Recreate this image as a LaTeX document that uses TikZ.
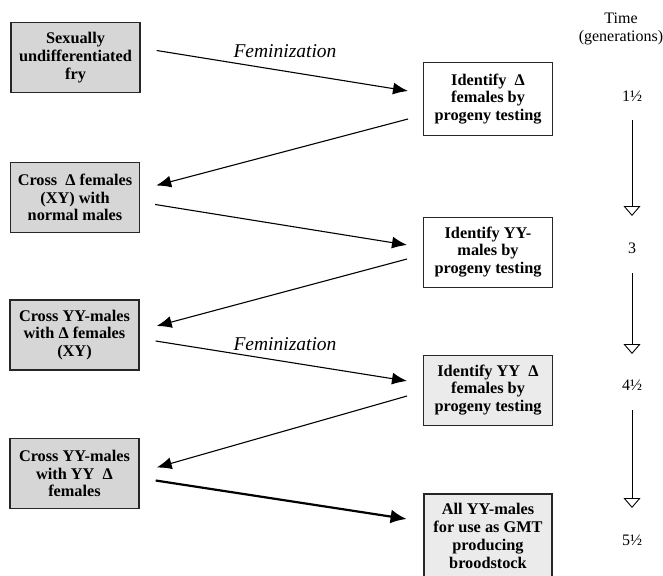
\documentclass[tikz,border=0pt]{standalone}
\usepackage{fontspec}
\setmainfont{Liberation Serif}
\usetikzlibrary{arrows.meta,calc}
\newcommand{\dlt}{\char"0394}
\begin{document}
\begin{tikzpicture}[x=1pt,y=-1pt,
  box/.style={draw=black!85,line width=1pt,align=center,inner sep=0pt,
    minimum width=129pt,minimum height=70pt,
    font=\fontsize{16.3}{17.8}\selectfont\bfseries},
  lbox/.style={box,fill=black!16,line width=1.4pt},
  rbox/.style={box,fill=white},
  rgbox/.style={box,fill=black!8},
  conn/.style={line width=1.1pt,-{Latex[length=15pt,width=12pt]}},
  tconn/.style={line width=0.9pt,-{Triangle[open,length=10pt,width=17pt]}},
  gen/.style={font=\fontsize{16}{17.5}\selectfont},
  fem/.style={font=\fontsize{19.5}{22}\selectfont\itshape}]
\useasboundingbox (0,0) rectangle (663,575);
\fill[white] (0,0) rectangle (663,575);
% left boxes
\node[lbox] (l1) at (75.5,57.5) {Sexually\\undifferentiated\\fry};
\node[lbox] (l2) at (75,197.5) {Cross\enspace\dlt{} females\\(XY) with\\normal males};
\node[lbox] (l3) at (74.5,335) {Cross YY-males\\with \dlt{} females\\(XY)};
\node[lbox] (l4) at (74.5,473.5) {Cross YY-males\\with YY\enspace \dlt\\females};
% right boxes
\node[rbox,minimum height=72pt] (r1) at (488,99) {Identify\enspace \dlt\\females by\\progeny testing};
\node[rbox] (r2) at (488,252) {Identify YY-\\males by\\progeny testing};
\node[rgbox] (r3) at (488,390) {Identify YY\enspace \dlt\\females by\\progeny testing};
\node[rgbox,line width=2.8pt,minimum width=128pt,minimum height=84pt] (r4) at (488,536) {All YY-males\\for use as GMT\\producing\\broodstock};
% connectors
\draw[conn] ($(l1.east)+(16,-7)$) -- ($(r1.west)+(-15,-8)$);
\draw[conn] ($(r1.west)+(-15,20)$) -- ($(l2.east)+(16,-12)$);
\draw[conn] ($(l2.east)+(15,7)$) -- ($(r2.west)+(-16,-7)$);
\draw[conn] ($(r2.west)+(-16,7)$) -- ($(l3.east)+(17,-9)$);
\draw[conn] ($(l3.east)+(16,6)$) -- ($(r3.west)+(-16,-9)$);
\draw[conn] ($(r3.west)+(-16,6)$) -- ($(l4.east)+(17,-6)$);
\draw[conn,line width=2.2pt,-{Latex[length=16pt,width=14pt]}] ($(l4.east)+(16,7)$) -- ($(r4.west)+(-16,-17)$);
% labels
\node[fem] (f1) at (285,51) {Feminization};
\node[fem] (f2) at (285,344) {Feminization};
% time column
\node[gen,align=center] (t0) at (621,29) {Time\\(generations)};
\node[gen] (g1) at (632,96) {1\char"00BD};
\node[gen] (g2) at (632,248) {3};
\node[gen] (g3) at (632,385) {4\char"00BD};
\node[gen] (g4) at (632,540) {5\char"00BD};
\draw[tconn] ($(g1)+(0,24)$) -- ($(g2)+(0,-32)$);
\draw[tconn] ($(g2)+(0,25)$) -- ($(g3)+(0,-31)$);
\draw[tconn] ($(g3)+(0,25)$) -- ($(g4)+(0,-32)$);
\end{tikzpicture}
\end{document}
